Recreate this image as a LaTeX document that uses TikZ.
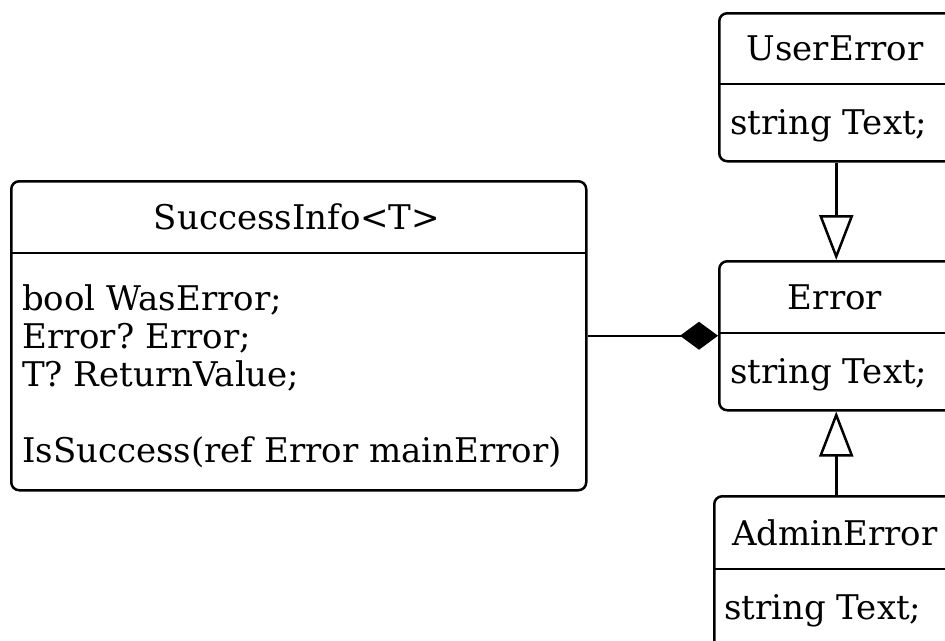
\documentclass[tikz,border=0pt]{standalone}
\usepackage{fontspec}
\setmainfont{DejaVu Serif}
\frenchspacing
\usetikzlibrary{arrows.meta}
\begin{document}
\begin{tikzpicture}[x=1pt,y=-1pt,
  classbox/.style={draw, line width=2.5pt, rounded corners=8pt, inner sep=0pt, anchor=north west},
  sepline/.style={line width=2.5pt},
  title/.style={font=\fontsize{34}{38}\selectfont, inner sep=0pt, anchor=base},
  member/.style={font=\fontsize{34}{38}\selectfont, inner sep=0pt, anchor=base west},
  link/.style={line width=2.5pt},
  inherit/.style={link, -{Triangle[open, length=45pt, width=34pt, fill=white]}},
  compose/.style={link, -{Diamond[length=38pt, width=28pt]}}]
\useasboundingbox (0,0) rectangle (945,640);
\clip (0,0) rectangle (945,640);

% SuccessInfo<T>
\node[classbox, minimum width=575pt, minimum height=309pt] (succ) at (10,180) {};
\draw[sepline] (10,253) -- (585,253);
\node[title] (succT) at (297,229) {SuccessInfo<T>};
\node[member] (succA) at (22,310) {bool WasError;};
\node[member] (succB) at (22,348) {Error? Error;};
\node[member] (succC) at (22,386) {T? ReturnValue;};
\node[member] (succD) at (22,462) {IsSuccess(ref Error mainError)};

% UserError
\node[classbox, minimum width=234pt, minimum height=148pt] (usr) at (718,12) {};
\draw[sepline] (718,84) -- (952,84);
\node[title] (usrT) at (835,60) {UserError};
\node[member] (usrA) at (730,134) {string Text;};

% Error
\node[classbox, minimum width=234pt, minimum height=149pt] (err) at (718,260) {};
\draw[sepline] (718,333) -- (952,333);
\node[title] (errT) at (835,309) {Error};
\node[member] (errA) at (730,383) {string Text;};

% AdminError
\node[classbox, minimum width=244pt, minimum height=160pt] (adm) at (713,495) {};
\draw[sepline] (713,569) -- (957,569);
\node[title] (admT) at (835,545) {AdminError};
\node[member] (admA) at (724,619) {string Text;};

% Relations
\draw[inherit] (usr.south) -- (err.north);
\draw[inherit] (adm.north) -- (err.south);
\draw[compose] (succ.east) -- (err.west);
\end{tikzpicture}
\end{document}
